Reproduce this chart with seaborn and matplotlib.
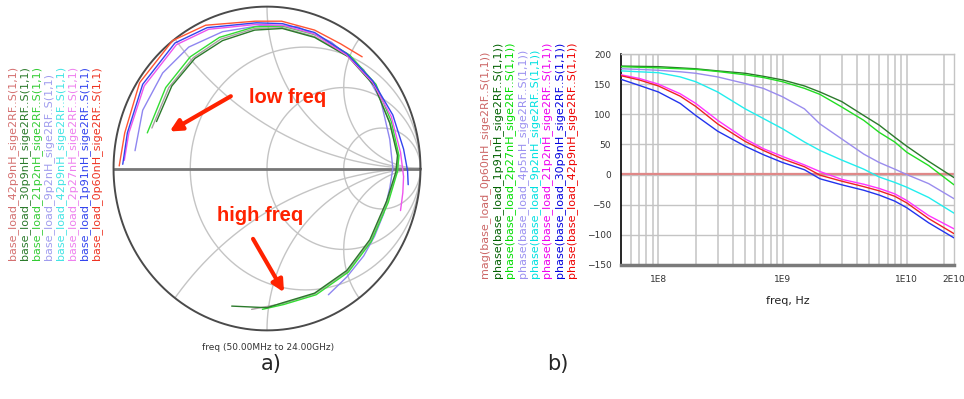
import numpy as np
import pandas as pd
import seaborn as sns
import matplotlib
matplotlib.use("Agg")
import matplotlib.pyplot as plt

# ---- data ----
# right panel: phase of S(1,1) vs frequency
freq_hz = [5e7, 7e7, 1e8, 1.5e8, 2e8, 3e8, 5e8, 7e8, 1e9, 1.5e9, 2e9, 3e9,
           4.5e9, 6e9, 8e9, 1e10, 1.5e10, 2.4e10]
phase_1p91 = [180, 179.5, 179, 177, 175.5, 172, 168, 163, 157, 147, 137, 121,
              98, 82, 62, 47, 22, -5]
phase_2p27 = [179, 178, 177, 175.5, 174.5, 171, 165.5, 161, 154, 143, 133, 112,
              90, 70, 54, 37, 15, -17]
phase_4p5 = [175.5, 174.5, 173, 170.5, 168, 162, 151, 143, 129, 109, 84, 59,
             34, 20, 9, 0, -15, -40]
phase_9p2 = [172, 170.5, 169, 162, 154, 137, 109, 93, 76, 54, 40, 24,
             9, -4, -13, -21, -38, -64]
phase_21p2 = [165.5, 159.5, 150, 134, 118, 90, 59, 43, 30, 16, 5, -8,
              -16, -23, -32, -43, -68, -90]
phase_30p9 = [158, 148, 137, 118, 98, 72, 47, 33, 20, 8, -7, -17,
              -26, -34, -44, -55, -80, -105]
phase_42p9 = [164, 157, 147, 130, 113, 84, 55, 40, 26, 13, -1, -11,
              -20, -27, -36, -47, -73, -98]
mag_freq = [5e7, 1e9, 2.4e10]
mag_0p60 = [0.99, 0.98, 0.97]

phase_names = ["1p91nH", "2p27nH", "4p5nH", "9p2nH", "21p2nH", "30p9nH", "42p9nH"]
phase_values = [phase_1p91, phase_2p27, phase_4p5, phase_9p2,
                phase_21p2, phase_30p9, phase_42p9]
phase_colors = ["#2b7a2b", "#22dd22", "#9a8cee", "#22eeee",
                "#ff33ff", "#2233ee", "#ee2222"]

x_ticks = [5e7, 1e8, 1e9, 1e10, 2.4e10]
x_tick_labels = ["", "1E8", "1E9", "1E10", "2E10"]
y_ticks = [-150, -100, -50, 0, 50, 100, 150, 200]

# left panel: S(1,1) traces on the Smith chart (real, imag)
smith_red_re = [-0.963, -0.927, -0.83, -0.615, -0.40, -0.077, 0.095, 0.31, 0.48, 0.62]
smith_red_im = [0.016, 0.22, 0.53, 0.79, 0.885, 0.91, 0.91, 0.855, 0.77, 0.69]
smith_blue_re = [-0.94, -0.91, -0.81, -0.60, -0.39, -0.07, 0.10, 0.31, 0.52,
                 0.69, 0.82, 0.89, 0.916, 0.92]
smith_blue_im = [0.026, 0.22, 0.52, 0.775, 0.87, 0.90, 0.895, 0.84, 0.71,
                 0.54, 0.33, 0.12, -0.015, -0.10]
smith_mag_re = [-0.93, -0.90, -0.80, -0.59, -0.38, -0.07, 0.10, 0.31, 0.52,
                0.69, 0.81, 0.87, 0.89, 0.885, 0.87]
smith_mag_im = [0.05, 0.22, 0.51, 0.765, 0.86, 0.89, 0.885, 0.83, 0.70,
                0.53, 0.32, 0.10, -0.05, -0.15, -0.26]
smith_slate_re = [-0.86, -0.81, -0.68, -0.51, -0.29, -0.03, 0.20, 0.42, 0.63,
                  0.74, 0.80, 0.82, 0.80, 0.76, 0.70, 0.63, 0.52, 0.40]
smith_slate_im = [0.11, 0.36, 0.59, 0.75, 0.845, 0.885, 0.875, 0.78, 0.61,
                  0.425, 0.18, 0.0, -0.12, -0.28, -0.42, -0.54, -0.67, -0.78]
smith_lime_re = [-0.78, -0.66, -0.50, -0.31, -0.08, 0.10, 0.32, 0.54, 0.71,
                 0.81, 0.86, 0.85, 0.79, 0.68, 0.53, 0.32, 0.11, -0.03]
smith_lime_im = [0.22, 0.50, 0.69, 0.81, 0.875, 0.88, 0.825, 0.70, 0.52,
                 0.29, 0.08, -0.02, -0.21, -0.45, -0.64, -0.78, -0.84, -0.87]
smith_gray_re = [-0.75, -0.64, -0.48, -0.30, -0.08, 0.10, 0.31, 0.53, 0.70,
                 0.80, 0.855, 0.845, 0.785, 0.675, 0.525, 0.31, 0.10, -0.10]
smith_gray_im = [0.25, 0.50, 0.685, 0.80, 0.865, 0.87, 0.815, 0.695, 0.515,
                 0.285, 0.08, -0.02, -0.205, -0.445, -0.635, -0.775, -0.835, -0.87]
smith_dkgreen_re = [-0.72, -0.62, -0.47, -0.29, -0.08, 0.10, 0.31, 0.53, 0.70,
                    0.80, 0.85, 0.84, 0.78, 0.67, 0.52, 0.31, 0.10, 0.0, -0.23]
smith_dkgreen_im = [0.29, 0.51, 0.68, 0.79, 0.855, 0.865, 0.81, 0.69, 0.51,
                    0.28, 0.08, -0.02, -0.20, -0.44, -0.63, -0.77, -0.83, -0.86, -0.85]

smith_traces = [
    (smith_slate_re, smith_slate_im, "#8f86f0"),
    (smith_gray_re, smith_gray_im, "#a8a0a0"),
    (smith_lime_re, smith_lime_im, "#33dd33"),
    (smith_dkgreen_re, smith_dkgreen_im, "#2b7a2b"),
    (smith_mag_re, smith_mag_im, "#ee55ee"),
    (smith_blue_re, smith_blue_im, "#3344ee"),
    (smith_red_re, smith_red_im, "#ff5533"),
]
r_circles = [1 / 3, 1, 3]
x_arcs = [0.5, 1, 2, -0.5, -1, -2]

left_labels = ["base_load_42p9nH_sige2RF..S(1,1)", "base_load_30p9nH_sige2RF..S(1,1)",
               "base_load_21p2nH_sige2RF..S(1,1)", "base_load_9p2nH_sige2RF..S(1,1)",
               "base_load_42p9nH_sige2RF..S(1,1)", "base_load_2p27nH_sige2RF..S(1,1)",
               "base_load_1p91nH_sige2RF..S(1,1)", "base_load_0p60nH_sige2RF..S(1,1)"]
left_label_colors = ["#d47070", "#2b7a2b", "#33cc33", "#a09cee",
                     "#44e4e4", "#ee80ee", "#3344ee", "#ee3322"]
right_labels = ["mag(base_load_0p60nH_sige2RF..S(1,1))",
                "phase(base_load_1p91nH_sige2RF..S(1,1))",
                "phase(base_load_2p27nH_sige2RF..S(1,1))",
                "phase(base_load_4p5nH_sige2RF..S(1,1))",
                "phase(base_load_9p2nH_sige2RF..S(1,1))",
                "phase(base_load_21p2nH_sige2RF..S(1,1))",
                "phase(base_load_30p9nH_sige2RF..S(1,1))",
                "phase(base_load_42p9nH_sige2RF..S(1,1))"]
right_label_colors = ["#cc6666", "#006000", "#00dd00", "#9a90f0",
                      "#00e0e0", "#ee00ee", "#0000dd", "#ee0000"]

W, H = 964, 399


def fx(px):
    return px / W


def fy(py):
    return 1 - py / H


def draw_smith(ax):
    """Smith chart grid and traces"""
    t = np.linspace(0, 2 * np.pi, 721)
    for r in r_circles:
        c, rad = r / (1 + r), 1 / (1 + r)
        ax.plot(c + rad * np.cos(t), rad * np.sin(t), color="#c4c4c4", lw=1, zorder=1)
    for x in x_arcs:
        rad = 1 / abs(x)
        xs = 1 + rad * np.cos(t)
        ys = 1 / x + rad * np.sin(t)
        inside = xs ** 2 + ys ** 2 <= 1.0005
        xs, ys = np.where(inside, xs, np.nan), np.where(inside, ys, np.nan)
        ax.plot(xs, ys, color="#c4c4c4", lw=1, zorder=1)
    ax.plot(np.cos(t), np.sin(t), color="#4a4a4a", lw=1.4, zorder=3)
    ax.plot([-1, 1], [0, 0], color="#777777", lw=2, zorder=2)
    for re, im, col in smith_traces:
        sns.lineplot(x=re, y=im, sort=False, estimator=None, color=col, lw=1,
                     ax=ax, zorder=4)
    ax.set_xlim(-1.01, 1.01)
    ax.set_ylim(-1.01, 1.01)
    ax.axis("off")
    ax.annotate("", xy=(-0.65, 0.22), xytext=(-0.22, 0.455),
                arrowprops=dict(arrowstyle="-|>,head_length=0.7,head_width=0.35",
                                color="#ff2200", lw=3), zorder=6)
    ax.text(0.135, 0.44, "low freq", color="#ff2200", fontsize=14.5, fontweight="bold",
            family=["Liberation Sans", "DejaVu Sans"], ha="center", va="center", zorder=6)
    ax.annotate("", xy=(0.12, -0.78), xytext=(-0.1, -0.42),
                arrowprops=dict(arrowstyle="-|>,head_length=0.7,head_width=0.35",
                                color="#ff2200", lw=3), zorder=6)
    ax.text(-0.045, -0.29, "high freq", color="#ff2200", fontsize=14.5, fontweight="bold",
            family=["Liberation Sans", "DejaVu Sans"], ha="center", va="center", zorder=6)


def draw_phase(ax):
    """Phase vs frequency plot"""
    df = pd.DataFrame({
        "freq": np.tile(freq_hz, len(phase_names)),
        "phase": np.concatenate(phase_values),
        "trace": np.repeat(phase_names, len(freq_hz)),
    })
    ax.set_xscale("log")
    minor = [k * 10 ** d for d in range(7, 11) for k in range(1, 10)]
    for m in minor:
        if 5e7 < m < 2.4e10:
            ax.axvline(m, color="#c8c8c8", lw=1.2, zorder=1)
    for yv in y_ticks[1:]:
        ax.axhline(yv, color="#c4c4c4", lw=1, zorder=1)
    sns.lineplot(x=mag_freq, y=mag_0p60, color="#e08888", lw=1.6, ax=ax, zorder=2)
    sns.lineplot(data=df, x="freq", y="phase", hue="trace", hue_order=phase_names,
                 palette=phase_colors, lw=1, legend=False, ax=ax, zorder=3)
    ax.set_xlim(5e7, 2.4e10)
    ax.set_ylim(-150, 200)
    ax.set_xticks(x_ticks)
    ax.set_xticklabels(x_tick_labels)
    ax.xaxis.set_minor_locator(matplotlib.ticker.NullLocator())
    ax.set_yticks(y_ticks)
    ax.tick_params(axis="both", direction="out", length=5, width=1.2, color="black",
                   labelsize=6.5, labelcolor="#333333", pad=2)
    ax.set_xlabel("freq, Hz", fontsize=8, color="#222222", labelpad=9)
    ax.set_ylabel("")
    for side in ["top", "right"]:
        ax.spines[side].set_color("#c4c4c4")
        ax.spines[side].set_linewidth(1)
    ax.spines["left"].set_color("black")
    ax.spines["left"].set_linewidth(1.2)
    ax.spines["bottom"].set_color("#7a7a7a")
    ax.spines["bottom"].set_linewidth(2.5)


def main():
    sns.set_style("white")
    plt.rcParams["font.family"] = ["DejaVu Sans"]
    fig = plt.figure(figsize=(W / 100, H / 100), dpi=100)

    ax_s = fig.add_axes([fx(112), fy(332), fx(422) - fx(112), fy(5) - fy(332)])
    draw_smith(ax_s)
    ax_p = fig.add_axes([fx(621), fy(265), fx(954) - fx(621), fy(54) - fy(265)])
    draw_phase(ax_p)

    for i, (txt, col) in enumerate(zip(left_labels, left_label_colors)):
        fig.text(fx(13 + 12 * i), fy(260), txt, rotation=90, color=col,
                 fontsize=8, ha="center", va="bottom")
    for i, (txt, col) in enumerate(zip(right_labels, right_label_colors)):
        fig.text(fx(485 + 12.4 * i), fy(278), txt, rotation=90, color=col,
                 fontsize=8, ha="center", va="bottom")

    fig.text(fx(268), fy(348), "freq (50.00MHz to 24.00GHz)", fontsize=6.5,
             color="#333333", ha="center", va="center")
    fig.text(fx(271), fy(364), "a)", fontsize=15, ha="center", va="center",
             family=["Liberation Sans Narrow", "DejaVu Sans"])
    fig.text(fx(558), fy(364), "b)", fontsize=15, ha="center", va="center",
             family=["Liberation Sans Narrow", "DejaVu Sans"])
    fig.savefig("out.png", dpi=100)


if __name__ == "__main__":
    main()
